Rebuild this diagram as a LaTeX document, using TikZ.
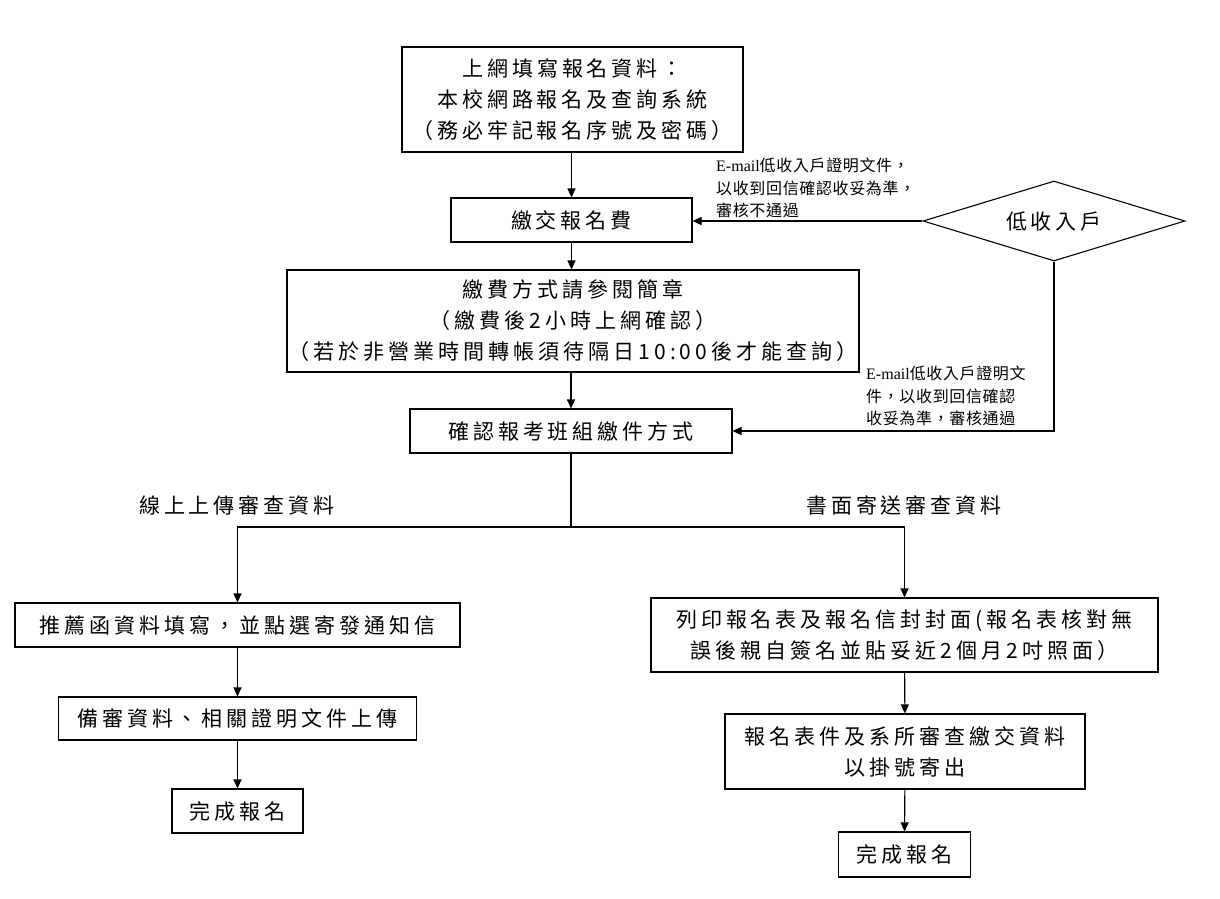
\documentclass[tikz,border=0pt]{standalone}
\usepackage{fontspec}
\setmainfont{Noto Sans CJK TC}
\newfontfamily\boxfont[LetterSpace=19]{Noto Sans CJK TC}
\newfontfamily\lblfont[LetterSpace=4]{Noto Sans CJK TC}
\newfontfamily\latinserif{Liberation Serif}
\usetikzlibrary{arrows.meta,shapes.geometric}
\begin{document}
\begin{tikzpicture}[x=1pt,y=-1pt,
  box/.style={draw, line width=1.1pt, inner sep=0pt, align=center,
    font=\boxfont\fontsize{21}{31}\selectfont},
  arr/.style={line width=1.1pt, -{Triangle[length=9pt,width=8pt]}},
  ln/.style={line width=1.1pt},
  lbl/.style={inner sep=0pt, align=left, anchor=north west,
    font=\lblfont\fontsize{16}{22.5}\selectfont},
  branch/.style={inner sep=0pt, font=\boxfont\fontsize{21}{24}\selectfont}]
\useasboundingbox[fill=white] (0,0) rectangle (1220,898);

\node[box, minimum width=341pt, minimum height=105pt] (top) at (572.5,99.5)
  {上網填寫報名資料：\\本校網路報名及查詢系統\\（務必牢記報名序號及密碼）};
\node[box, minimum width=241pt, minimum height=44pt] (fee) at (571.5,220) {繳交報名費};
\node[box, minimum width=572pt, minimum height=102pt] (pay) at (573,321)
  {繳費方式請參閱簡章\\（繳費後2小時上網確認）\\（若於非營業時間轉帳須待隔日10:00後才能查詢）};
\node[box, minimum width=322pt, minimum height=44pt] (conf) at (571,431) {確認報考班組繳件方式};
\node[draw, diamond, aspect=3.275, line width=1.1pt, inner sep=0pt, minimum width=262pt, minimum height=80pt,
  font=\boxfont\fontsize{21}{24}\selectfont] (dia) at (1054,221) {低收入戶};

\node[box, minimum width=445pt, minimum height=44pt] (l1) at (237.5,625) {推薦函資料填寫，並點選寄發通知信};
\node[box, minimum width=358pt, minimum height=43pt] (l2) at (237.5,718.5) {備審資料、相關證明文件上傳};
\node[box, minimum width=131pt, minimum height=44pt] (l3) at (237.5,811) {完成報名};

\node[box, minimum width=507pt, minimum height=74pt] (r1) at (904.5,635)
  {列印報名表及報名信封封面(報名表核對無\\誤後親自簽名並貼妥近2個月2吋照面）};
\node[box, minimum width=360pt, minimum height=75pt] (r2) at (905,751.5)
  {報名表件及系所審查繳交資料\\以掛號寄出};
\node[box, minimum width=132pt, minimum height=45pt] (r3) at (904.5,854.5) {完成報名};

\node[lbl] (lb1) at (716,158) {{\latinserif E-mail}低收入戶證明文件，\\以收到回信確認收妥為準，\\審核不通過};
\node[lbl] (lb2) at (866,366) {{\latinserif E-mail}低收入戶證明文\\件，以收到回信確認\\收妥為準，審核通過};

\node[branch] (bl) at (237,505) {線上上傳審查資料};
\node[branch] (br) at (904,505) {書面寄送審查資料};

\coordinate (split) at (571,527);

\draw[arr] (fee.north |- top.south) -- (fee.north);
\draw[arr] (dia.west) -- (fee.east |- dia.west);
\draw[arr] (fee.south) -- (fee.south |- pay.north);
\draw[arr] (conf.north |- pay.south) -- (conf.north);
\draw[arr] (dia.south) |- (conf.east);
\draw[ln] (conf.south) -- (split);
\draw[arr] (split) -| (l1.north);
\draw[arr] (split) -| (r1.north);
\draw[arr] (l1) -- (l2);
\draw[arr] (l2) -- (l3);
\draw[arr] (r1) -- (r2);
\draw[arr] (r2) -- (r3);
\end{tikzpicture}
\end{document}
